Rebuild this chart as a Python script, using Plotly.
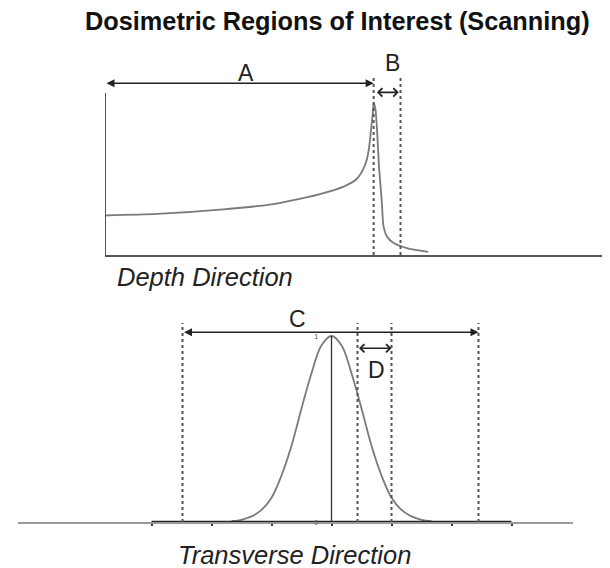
import plotly.graph_objects as go

# Depth direction: Bragg curve (depth in cm, relative dose)
depth_cm = [0, 2.9, 6.6, 9.4, 11.3, 12.6, 13.5, 14.05, 14.4, 14.6, 14.75, 14.85, 14.95,
            15.0, 15.1, 15.2, 15.3, 15.45, 15.55, 15.75, 16.1, 16.85, 18.05]
depth_dose = [0.26, 0.27, 0.30, 0.335, 0.38, 0.42, 0.46, 0.50, 0.56, 0.62, 0.71, 0.82, 0.93,
              1.0, 0.96, 0.80, 0.58, 0.36, 0.19, 0.12, 0.08, 0.045, 0.02]
region_a = [0, 15.0]      # entrance to peak
region_b = [15.0, 16.5]   # distal fall-off

# Transverse direction: lateral profile (mm, relative dose)
lateral_mm = [-10, -9, -8, -7, -6, -5, -4, -3, -2, -1, 0, 1, 2, 3, 4, 5, 6, 7, 8, 9, 10]
lateral_dose = [0.004, 0.012, 0.03, 0.065, 0.13, 0.25, 0.41, 0.61, 0.80, 0.95, 1.0,
                0.95, 0.80, 0.61, 0.41, 0.25, 0.13, 0.065, 0.03, 0.012, 0.004]
lateral_ticks = [-18, -12, -6, 0, 6, 12, 18]
region_c = [-14.9, 14.7]  # field extent
region_d = [2.6, 6.0]     # penumbra

W, H = 610, 568
OFF = 8  # page body margin


def px(x):
    return (x - OFF) / W


def py(y):
    return 1 - (y - OFF) / H


curve = '#7a7a7a'
dark = '#333333'
font = 'Liberation Sans, Arial, sans-serif'

fig = go.Figure()
fig.add_trace(go.Scatter(x=depth_cm, y=depth_dose, mode='lines',
                         line=dict(color=curve, width=1.8, shape='spline', smoothing=0.6),
                         xaxis='x', yaxis='y', hoverinfo='skip'))
fig.add_trace(go.Scatter(x=lateral_mm, y=lateral_dose, mode='lines',
                         line=dict(color=curve, width=1.8, shape='spline'),
                         xaxis='x2', yaxis='y2', hoverinfo='skip'))
# central axis of the lateral profile
fig.add_trace(go.Scatter(x=[0, 0], y=[0, max(lateral_dose)], mode='lines',
                         line=dict(color=dark, width=1.3),
                         xaxis='x2', yaxis='y2', hoverinfo='skip'))
# darker baseline across the tick range
fig.add_trace(go.Scatter(x=[lateral_ticks[0], lateral_ticks[-1]], y=[0, 0], mode='lines',
                         line=dict(color='#222222', width=2.5),
                         xaxis='x2', yaxis='y2', hoverinfo='skip'))

shapes = []
# vertical axis of the depth plot
shapes.append(dict(type='line', xref='x', yref='y', x0=0, x1=0, y0=0, y1=1.066,
                   line=dict(color='#555555', width=2)))
for xv in region_b:
    shapes.append(dict(type='line', xref='x', yref='y', x0=xv, x1=xv, y0=0, y1=1.18,
                       line=dict(color='#555555', width=2, dash='dot')))
for xv in region_c + region_d:
    shapes.append(dict(type='line', xref='x2', yref='y2', x0=xv, x1=xv, y0=0, y1=1.07,
                       line=dict(color='#555555', width=2, dash='dot')))

ann = []


def arrow(xr, yr, x0, x1, y, head):
    return dict(xref=xr, yref=yr, axref=xr, ayref=yr, x=x1, y=y, ax=x0, ay=y, text='',
                showarrow=True, arrowhead=head, startarrowhead=head, arrowside='end+start',
                arrowwidth=1.6, arrowsize=1, arrowcolor='#222222', standoff=0, startstandoff=0)


ann.append(arrow('x', 'y', region_a[0], region_a[1], 1.13, 2))
ann.append(arrow('x', 'y', region_b[0] + 0.1, region_b[1] - 0.1, 1.07, 4))
ann.append(arrow('x2', 'y2', region_c[0], region_c[1], 1.02, 2))
ann.append(arrow('x2', 'y2', region_d[0], region_d[1], 0.934, 4))

lab = dict(family=font, size=23, color='#222222')
ann.append(dict(xref='x', yref='y', x=7.9, y=1.2, text='A', showarrow=False, font=lab))
ann.append(dict(xref='x', yref='y', x=16.05, y=1.26, text='B', showarrow=False, font=lab))
ann.append(dict(xref='x2', yref='y2', x=-3.45, y=1.09, text='C', showarrow=False, font=lab))
ann.append(dict(xref='x2', yref='y2', x=4.45, y=0.817, text='D', showarrow=False, font=lab))
small = dict(family=font, size=8, color='#666666')
ann.append(dict(xref='x2', yref='y2', x=-1.55, y=1.0, text='1', showarrow=False, font=small))
ann.append(dict(xref='x2', yref='y2', x=-1.55, y=0.0, text='0', showarrow=False, font=small))

txt = dict(xref='paper', yref='paper', showarrow=False, xanchor='center', yanchor='middle')
ann.append(dict(txt, x=px(337), y=py(21),
                text='<b>Dosimetric Regions of Interest (Scanning)</b>',
                font=dict(family=font, size=25.3, color='#111111')))
ann.append(dict(txt, x=px(204.5), y=py(277), text='<i>Depth Direction</i>',
                font=dict(family=font, size=25.5, color='#222222')))
ann.append(dict(txt, x=px(294.5), y=py(555), text='<i>Transverse Direction</i>',
                font=dict(family=font, size=25.5, color='#222222')))

cm_px = 17.91
mm_px = 10.0
fig.update_layout(
    width=W, height=H, margin=dict(l=0, r=0, t=0, b=0, autoexpand=False),
    paper_bgcolor='white', plot_bgcolor='white', showlegend=False,
    shapes=shapes, annotations=ann,
    xaxis=dict(domain=[px(105), 1], range=[0, (W + OFF - 105) / cm_px], showgrid=False,
               zeroline=False, showticklabels=False, ticks='', showline=True,
               linecolor='#555555', linewidth=2),
    yaxis=dict(domain=[py(255), py(255 - 1.32 * 152)], range=[0, 1.32], showgrid=False,
               zeroline=False, showticklabels=False, ticks='', showline=False),
    xaxis2=dict(domain=[px(18), px(573)], range=[(18 - 331.5) / mm_px, (573 - 331.5) / mm_px],
                anchor='y2', showgrid=False, zeroline=False, showticklabels=False,
                tickvals=lateral_ticks, ticks='outside', ticklen=2, tickwidth=1.5,
                tickcolor='#333333', showline=True, linecolor='#9a9a9a', linewidth=2),
    yaxis2=dict(domain=[py(522), py(522 - 1.15 * 186)], range=[0, 1.15], anchor='x2',
                showgrid=False, zeroline=False, showticklabels=False, ticks='', showline=False),
)

fig.write_html("out.html")
